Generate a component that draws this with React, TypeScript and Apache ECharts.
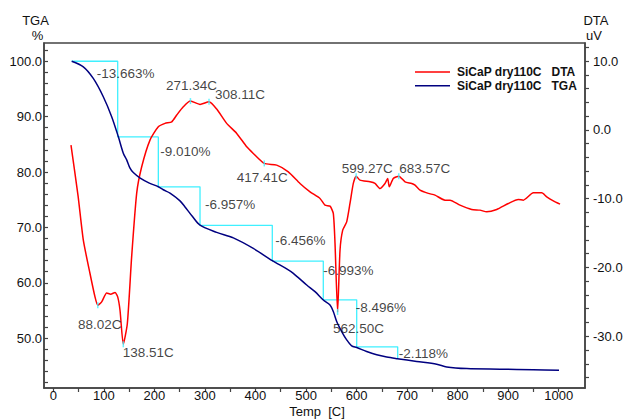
import React, { useEffect, useRef } from "react";
import * as echarts from "echarts";

const FONT = "Arial, 'Liberation Sans', Helvetica, sans-serif";

// DTA curve (uV) vs temperature (C)
const dtaTemp = [
  35.0, 49.0, 59.4, 72.6, 82.5, 88.02, 95.7, 105.7, 113.5, 122.1, 127.4, 132.0,
  138.51, 146.5, 155.0, 165.0, 174.9, 191.3, 207.8, 221.0, 234.3, 244.2, 257.2,
  271.34, 290.3, 308.11, 323.3, 343.0, 362.9, 382.7, 395.7, 417.41, 442.0, 465.0,
  488.1, 508.0, 527.7, 537.6, 547.5, 554.0, 557.4, 562.5, 567.3, 572.6, 580.5,
  587.0, 593.6, 599.27, 606.8, 626.6, 636.5, 646.4, 656.3, 661.6, 664.8, 672.7,
  683.57, 695.9, 709.1, 715.7, 725.6, 742.0, 755.2, 775.0, 784.9, 804.7, 827.8,
  844.3, 857.5, 877.3, 900.3, 920.0, 930.0, 949.8, 966.4, 976.3, 989.3, 1002.6,
];
const dtaValue = [
  -2.22, -9.6, -16.04, -20.88, -24.28, -25.49, -25.01, -23.7, -23.89, -23.64, -24.28, -26.22,
  -31.16, -28.15, -18.47, -9.2, -5.37, -1.49, 0.44, 0.94, 1.17, 2.15, 3.35,
  4.18, 3.7, 4.08, 3.02, 0.94, -0.52, -2.47, -3.43, -4.88, -5.13, -6.1,
  -7.79, -9.01, -9.97, -10.95, -11.09, -12.15, -16.52, -26.47, -17.49, -14.58, -13.37,
  -10.7, -7.79, -6.73, -7.31, -7.56, -7.79, -8.52, -7.79, -7.06, -8.28, -7.06,
  -6.73, -7.56, -7.79, -8.04, -8.76, -9.24, -9.49, -10.22, -10.22, -10.95, -11.57,
  -11.67, -11.92, -11.57, -10.7, -10.12, -10.22, -9.16, -9.16, -9.74, -10.32, -10.8,
];

// TGA curve (%) vs temperature (C)
const tgaTemp = [
  36.4, 59.4, 79.1, 98.9, 115.5, 128.6, 138.5, 145.2, 151.8, 158.3, 172.0, 190.0,
  207.8, 217.6, 230.9, 250.7, 260.6, 275.0, 290.3, 323.3, 356.2, 395.7, 433.3,
  461.8, 474.9, 501.4, 517.8, 534.2, 547.5, 554.0, 560.7, 570.6, 580.5, 590.4,
  600.3, 620.0, 639.9, 659.7, 680.7, 719.0, 758.6, 778.4, 818.0, 883.8, 949.7, 1000.6,
];
const tgaValue = [
  100.0, 99.0, 96.9, 93.6, 90.0, 86.4, 83.4, 82.2, 80.7, 79.9, 78.9, 78.0,
  77.35, 76.8, 76.2, 74.8, 73.7, 72.0, 70.4, 69.1, 68.1, 66.2, 64.0,
  62.5, 61.7, 59.6, 58.4, 56.9, 56.0, 54.8, 53.0, 51.2, 49.7, 48.6,
  48.3, 47.6, 47.0, 46.6, 46.3, 45.8, 45.3, 44.8, 44.5, 44.4, 44.3, 44.2,
];

// TGA step analysis
const stepStartTemp = 36.4;
const stepEndTemps = [127.4, 207.8, 290.3, 433.3, 534.2, 600.3, 681.4];
const stepLevels = [100.0, 86.34, 77.33, 70.37, 63.92, 56.92, 48.43, 46.31];
const stepLabels = ["-13.663%", "-9.010%", "-6.957%", "-6.456%", "-6.993%", "-8.496%", "-2.118%"];

// DTA peaks
const peakTemps = [88.02, 138.51, 271.34, 308.11, 417.41, 562.5, 599.27, 683.57];
const peakValues = [-25.49, -31.16, 4.18, 4.08, -4.88, -26.47, -6.73, -6.73];

// Ticks / labels
const xLabelValues = [0, 100, 200, 300, 400, 500, 600, 700, 800, 900, 1000];
const xTickValues = [0, 50, 100, 150, 200, 250, 300, 350, 400, 450, 500, 550, 600, 650, 700, 750, 800, 850, 900, 950, 1000];
const tgaLabelValues = [50, 60, 70, 80, 90, 100];
const tgaTickValues = [42, 44, 46, 48, 50, 52, 54, 56, 58, 60, 62, 64, 66, 68, 70, 72, 74, 76, 78, 80, 82, 84, 86, 88, 90, 92, 94, 96, 98, 100, 102];
const dtaLabelValues = [-30, -20, -10, 0, 10];
const dtaTickValues = [-36, -34, -32, -30, -28, -26, -24, -22, -20, -18, -16, -14, -12, -10, -8, -6, -4, -2, 0, 2, 4, 6, 8, 10, 12];

const DTA_NAME = "SiCaP dry110C   DTA";
const TGA_NAME = "SiCaP dry110C   TGA";

// label placement (styling, pixels)
const stepLabelOffsets = [[-21, 12], [2, 15], [5, 18], [3, 15], [0, 9], [-1, 8], [1, 7]];
const peakLabelOffsets = [[2, 19], [25, 8], [1, -16], [31, -7], [-2, 14], [21, 17], [11, -8], [26, -8]];

export default function App() {
  const ref = useRef<HTMLDivElement>(null);

  useEffect(() => {
    if (!ref.current) return;
    const chart = echarts.init(ref.current, null, { renderer: "svg" });

    const stepLine: number[][] = [[stepStartTemp, stepLevels[0]]];
    stepEndTemps.forEach((t, i) => {
      stepLine.push([t, stepLevels[i]]);
      stepLine.push([t, stepLevels[i + 1]]);
    });

    const axisColor = "#444";
    const textColor = "#111";

    const option: any = {
      animation: false,
      backgroundColor: "#fff",
      textStyle: { fontFamily: FONT },
      grid: {
        left: 44, right: 39, top: 43, bottom: 31,
        containLabel: false, outerBoundsMode: "none",
        show: true, borderColor: axisColor, borderWidth: 1.5, backgroundColor: "transparent",
      },
      legend: {
        data: [DTA_NAME, TGA_NAME],
        orient: "vertical",
        left: 410, top: 61,
        icon: "rect",
        itemWidth: 35, itemHeight: 1.5,
        itemGap: 1.8,
        textStyle: { fontFamily: FONT, fontSize: 12, fontWeight: "bold", color: textColor, padding: [0, 0, 0, 2] },
      },
      graphic: [
        { type: "text", x: 35.5, y: 20.5, style: { text: "TGA", font: `13px ${FONT}`, fill: textColor, align: "center", verticalAlign: "middle" } },
        { type: "text", x: 37.5, y: 35, style: { text: "%", font: `13px ${FONT}`, fill: textColor, align: "center", verticalAlign: "middle" } },
        { type: "text", x: 596, y: 20.5, style: { text: "DTA", font: `13px ${FONT}`, fill: textColor, align: "center", verticalAlign: "middle" } },
        { type: "text", x: 594, y: 35, style: { text: "uV", font: `13px ${FONT}`, fill: textColor, align: "center", verticalAlign: "middle" } },
        { type: "text", x: 317, y: 411.5, style: { text: "Temp  [C]", font: `13px ${FONT}`, fill: textColor, align: "center", verticalAlign: "middle" } },
      ],
      xAxis: {
        type: "value", min: -18.4, max: 1052, position: "bottom",
        axisLine: { show: true, onZero: false, lineStyle: { color: axisColor, width: 1.5 } },
        axisTick: { show: true, customValues: xTickValues, length: 4, lineStyle: { color: axisColor, width: 1.2 } },
        axisLabel: { customValues: xLabelValues, margin: 1, color: textColor, fontSize: 13, fontFamily: FONT, formatter: (v: number) => String(v) },
        splitLine: { show: false },
      },
      yAxis: [
        {
          type: "value", min: 41.0, max: 103.3, position: "left",
          axisLine: { show: true, onZero: false, lineStyle: { color: axisColor, width: 1.5 } },
          axisTick: { show: true, inside: true, customValues: tgaTickValues, length: 4, lineStyle: { color: axisColor, width: 1.2 } },
          axisLabel: { customValues: tgaLabelValues, margin: 2, color: textColor, fontSize: 13, fontFamily: FONT, formatter: (v: number) => v.toFixed(1) },
          splitLine: { show: false },
        },
        {
          type: "value", min: -37.52, max: 12.62, position: "right",
          axisLine: { show: true, onZero: false, lineStyle: { color: axisColor, width: 1.5 } },
          axisTick: { show: true, customValues: dtaTickValues, length: 4, lineStyle: { color: axisColor, width: 1.2 } },
          axisLabel: { customValues: dtaLabelValues, margin: 8, color: textColor, fontSize: 13, fontFamily: FONT, formatter: (v: number) => v.toFixed(1) },
          splitLine: { show: false },
        },
      ],
      series: [
        {
          name: "TGA steps", type: "line", yAxisIndex: 0, data: stepLine,
          showSymbol: false, silent: true,
          lineStyle: { color: "#3ff0ff", width: 1.3 }, z: 2,
        },
        {
          name: DTA_NAME, type: "line", yAxisIndex: 1,
          data: dtaTemp.map((t, i) => [t, dtaValue[i]]),
          showSymbol: false, smooth: 0.2,
          lineStyle: { color: "#ff0000", width: 1.5 }, itemStyle: { color: "#ff0000" }, z: 3,
        },
        {
          name: TGA_NAME, type: "line", yAxisIndex: 0,
          data: tgaTemp.map((t, i) => [t, tgaValue[i]]),
          showSymbol: false, smooth: 0.3,
          lineStyle: { color: "#000080", width: 1.5 }, itemStyle: { color: "#000080" }, z: 3,
        },
        {
          name: "DTA peaks", type: "scatter", yAxisIndex: 1,
          symbol: "rect", symbolSize: [1.5, 6],
          itemStyle: { color: "#3ff0ff" }, z: 4,
          data: peakTemps.map((t, i) => ({
            value: [t, peakValues[i]],
            label: {
              show: true, position: "inside", offset: peakLabelOffsets[i],
              align: "center", verticalAlign: "middle",
              formatter: `${t.toFixed(2)}C`,
              color: textColor, fontSize: 13.5, fontFamily: FONT,
            },
          })),
        },
        {
          name: "Step labels", type: "scatter", yAxisIndex: 0,
          symbolSize: 0, z: 5,
          data: stepEndTemps.map((t, i) => ({
            value: [t, stepLevels[i]],
            label: {
              show: true, position: "inside", offset: stepLabelOffsets[i],
              align: "left", verticalAlign: "middle",
              formatter: stepLabels[i],
              color: textColor, fontSize: 13.5, fontFamily: FONT,
            },
          })),
        },
      ],
    };

    chart.setOption(option);
    return () => chart.dispose();
  }, []);

  return <div ref={ref} style={{ position: "fixed", left: 0, top: 0, width: 624, height: 419, background: "#fff" }} />;
}
